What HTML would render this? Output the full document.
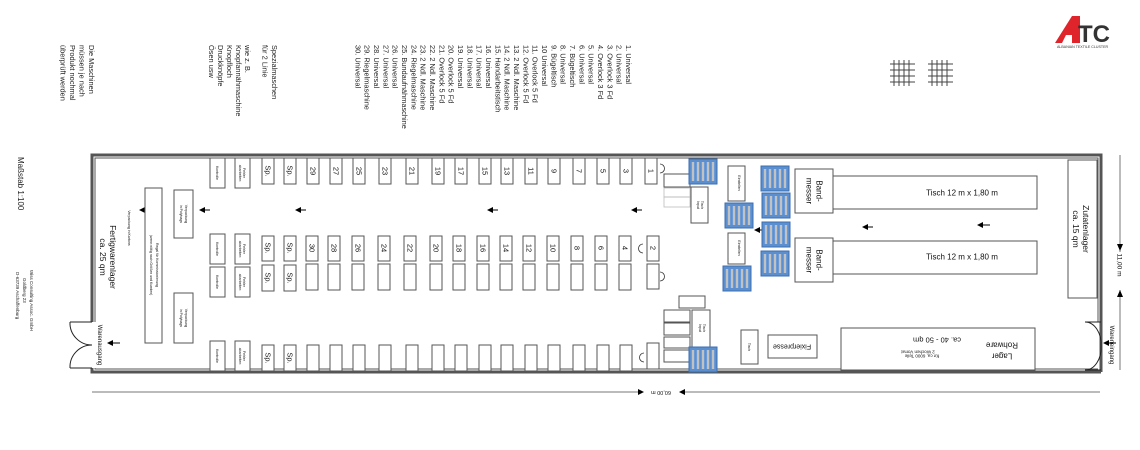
<!DOCTYPE html>
<html><head><meta charset="utf-8"><style>
html,body{margin:0;padding:0;background:#fff;}
svg{display:block;font-family:"Liberation Sans",sans-serif;}
</style></head><body>
<svg width="1140" height="450" viewBox="0 0 1140 450" xmlns="http://www.w3.org/2000/svg">
<defs>
<g id="rack">
<rect x="0" y="0" width="28" height="25" fill="#5b8fd0" stroke="#3e6fb0"/>
<path d="M4 3v19M9 3v19M14 3v19M19 3v19M24 3v19" stroke="#fff" stroke-width="2.2"/>
<path d="M4 3v19M9 3v19M14 3v19M19 3v19M24 3v19" stroke="#333" stroke-width="0.6"/>
</g>
<marker id="ah" markerWidth="6" markerHeight="6" refX="5" refY="3" orient="auto"><path d="M0,0 L6,3 L0,6z" fill="#000"/></marker>
</defs>
<g fill="#222" font-size="7.4">
<g transform="translate(626,45) rotate(90)"><text>1. Universal</text></g>
<g transform="translate(616.6,45) rotate(90)"><text>2. Universal</text></g>
<g transform="translate(607.3,45) rotate(90)"><text>3. Overlock 3 Fd</text></g>
<g transform="translate(598,45) rotate(90)"><text>4. Overlock 3 Fd</text></g>
<g transform="translate(588.6,45) rotate(90)"><text>5. Universal</text></g>
<g transform="translate(579.3,45) rotate(90)"><text>6. Universal</text></g>
<g transform="translate(570,45) rotate(90)"><text>7. Bügeltisch</text></g>
<g transform="translate(560.6,45) rotate(90)"><text>8. Universal</text></g>
<g transform="translate(551.3,45) rotate(90)"><text>9. Bügeltisch</text></g>
<g transform="translate(542,45) rotate(90)"><text>10 Universal</text></g>
<g transform="translate(532.6,45) rotate(90)"><text>11. Overlock 5 Fd</text></g>
<g transform="translate(523.3,45) rotate(90)"><text>12. Overlock 5 Fd</text></g>
<g transform="translate(514,45) rotate(90)"><text>13. 2 Ndl. Maschine</text></g>
<g transform="translate(504.6,45) rotate(90)"><text>14. 2 Ndl. Maschine</text></g>
<g transform="translate(495.3,45) rotate(90)"><text>15. Handarbeitstisch</text></g>
<g transform="translate(486,45) rotate(90)"><text>16. Universal</text></g>
<g transform="translate(476.6,45) rotate(90)"><text>17. Universal</text></g>
<g transform="translate(467.3,45) rotate(90)"><text>18. Universal</text></g>
<g transform="translate(458,45) rotate(90)"><text>19. Universal</text></g>
<g transform="translate(448.6,45) rotate(90)"><text>20. Overlock 5 Fd</text></g>
<g transform="translate(439.3,45) rotate(90)"><text>21. Overlock 5 Fd</text></g>
<g transform="translate(430,45) rotate(90)"><text>22. 2 Ndl. Maschine</text></g>
<g transform="translate(420.6,45) rotate(90)"><text>23. 2 Ndl. Maschine</text></g>
<g transform="translate(411.3,45) rotate(90)"><text>24. Riegelmaschine</text></g>
<g transform="translate(402,45) rotate(90)"><text>25. Bundaufnähmaschine</text></g>
<g transform="translate(392.6,45) rotate(90)"><text>26. Universal</text></g>
<g transform="translate(383.3,45) rotate(90)"><text>27. Universal</text></g>
<g transform="translate(374,45) rotate(90)"><text>28. Universal</text></g>
<g transform="translate(364.6,45) rotate(90)"><text>29. Riegelmaschine</text></g>
<g transform="translate(355.3,45) rotate(90)"><text>30. Universal</text></g>

<g transform="translate(272,45) rotate(90)"><text>Spezialmaschen</text></g>
<g transform="translate(262.5,45) rotate(90)"><text>für 2 Linie</text></g>
<g transform="translate(245,45) rotate(90)"><text>wie z. B.</text></g>
<g transform="translate(236,45) rotate(90)"><text>Knopfannähmaschine</text></g>
<g transform="translate(227,45) rotate(90)"><text>Knopfloch</text></g>
<g transform="translate(218,45) rotate(90)"><text>Druckknöpfe</text></g>
<g transform="translate(209,45) rotate(90)"><text>Ösen usw</text></g>
<g transform="translate(89,45) rotate(90)"><text>Die Maschinen</text></g>
<g transform="translate(79.5,45) rotate(90)"><text>müssen je nach</text></g>
<g transform="translate(70,45) rotate(90)"><text>Produkt nochmal</text></g>
<g transform="translate(60.5,45) rotate(90)"><text>überprüft werden</text></g>
<g transform="translate(18,157) rotate(90)"><text font-size="8">Maßstab 1:100</text></g>
<g font-size="4.5"><g transform="translate(30,270) rotate(90)"><text>Wiss Consulting Assoc. GmbH</text></g>
<g transform="translate(23,278) rotate(90)"><text>Goldberg 23</text></g>
<g transform="translate(16,272) rotate(90)"><text>D-63739 Aschaffenburg</text></g></g>
</g>

<!-- building walls -->
<g fill="none" stroke="#555">
<path d="M92,322 V155 H1101 V322" stroke-width="3"/>
<path d="M95,322 V158 H1098 V322" stroke-width="1"/>
<path d="M92,368 V372 H1101 V372" stroke-width="3"/>
<path d="M95,368 V369 H1098" stroke-width="1"/>
<path d="M1101,322 V372" stroke-width="3"/>
</g>
<!-- doors -->
<g fill="none" stroke="#222" stroke-width="1">
<path d="M70,322 H92 M70,368 H92 M70,322 A22,22 0 0 0 92,345 M70,368 A22,22 0 0 1 92,345"/>
<path d="M1101,322 H1085 M1101,370 H1085 M1085,322 A16,22 0 0 1 1101,346 M1085,370 A16,22 0 0 0 1101,346" />
</g>
<g stroke="#000" stroke-width="1" marker-end="url(#ah)">
<line x1="120" y1="343" x2="108" y2="343"/>
<line x1="1116" y1="343" x2="1104" y2="343"/>
<line x1="306" y1="210" x2="296" y2="210"/>
<line x1="498" y1="210" x2="488" y2="210"/>
<line x1="642" y1="210" x2="632" y2="210"/>
<line x1="210" y1="210" x2="200" y2="210"/>
<line x1="152" y1="210" x2="140" y2="210"/>
<line x1="873" y1="227" x2="863" y2="227"/>
<line x1="990" y1="225" x2="978" y2="225"/>
<line x1="766" y1="230" x2="755" y2="230"/>
</g>

<g fill="#fff" stroke="#555" stroke-width="1">
<!-- top row -->
<rect x="307" y="158" width="12" height="26"/><rect x="330" y="158" width="12" height="26"/><rect x="353" y="158" width="12" height="26"/><rect x="379" y="158" width="12" height="26"/><rect x="406" y="158" width="12" height="26"/><rect x="432" y="158" width="12" height="26"/><rect x="455" y="158" width="12" height="26"/><rect x="479" y="158" width="12" height="26"/><rect x="501" y="158" width="12" height="26"/><rect x="525" y="158" width="12" height="26"/><rect x="548" y="158" width="12" height="26"/><rect x="573" y="158" width="12" height="26"/><rect x="597" y="158" width="12" height="26"/><rect x="620" y="158" width="12" height="26"/><rect x="645" y="158" width="12" height="26"/>
<!-- middle numbered -->
<rect x="306" y="236" width="12" height="25"/><rect x="328" y="236" width="12" height="25"/><rect x="352" y="236" width="12" height="25"/><rect x="378" y="236" width="12" height="25"/><rect x="404" y="236" width="12" height="25"/><rect x="430" y="236" width="12" height="25"/><rect x="453" y="236" width="12" height="25"/><rect x="477" y="236" width="12" height="25"/><rect x="500" y="236" width="12" height="25"/><rect x="523" y="236" width="12" height="25"/><rect x="547" y="236" width="12" height="25"/><rect x="571" y="236" width="12" height="25"/><rect x="595" y="236" width="12" height="25"/><rect x="619" y="236" width="12" height="25"/><rect x="647" y="236" width="12" height="25"/>
<!-- lower row -->
<rect x="306" y="264" width="12" height="26"/><rect x="328" y="264" width="12" height="26"/><rect x="352" y="264" width="12" height="26"/><rect x="378" y="264" width="12" height="26"/><rect x="404" y="264" width="12" height="26"/><rect x="430" y="264" width="12" height="26"/><rect x="453" y="264" width="12" height="26"/><rect x="477" y="264" width="12" height="26"/><rect x="500" y="264" width="12" height="26"/><rect x="523" y="264" width="12" height="26"/><rect x="547" y="264" width="12" height="26"/><rect x="571" y="264" width="12" height="26"/><rect x="595" y="264" width="12" height="26"/><rect x="619" y="264" width="12" height="26"/><rect x="647" y="264" width="12" height="25"/>
<!-- bottom row -->
<rect x="307" y="345" width="12" height="26"/><rect x="330" y="345" width="12" height="26"/><rect x="353" y="345" width="12" height="26"/><rect x="379" y="345" width="12" height="26"/><rect x="406" y="345" width="12" height="26"/><rect x="432" y="345" width="12" height="26"/><rect x="455" y="345" width="12" height="26"/><rect x="479" y="345" width="12" height="26"/><rect x="501" y="345" width="12" height="26"/><rect x="525" y="345" width="12" height="26"/><rect x="548" y="345" width="12" height="26"/><rect x="573" y="345" width="12" height="26"/><rect x="597" y="345" width="12" height="26"/><rect x="620" y="345" width="12" height="26"/><rect x="647" y="343" width="12" height="26"/>
<!-- Sp. -->
<rect x="262" y="158" width="12" height="26"/><rect x="284" y="158" width="12" height="26"/>
<rect x="262" y="236" width="12" height="25"/><rect x="284" y="236" width="12" height="25"/>
<rect x="262" y="265" width="12" height="26"/><rect x="284" y="265" width="12" height="26"/>
<rect x="262" y="345" width="12" height="26"/><rect x="284" y="345" width="12" height="26"/>
<!-- Fehler / Kontrolle -->
<rect x="235" y="158" width="15" height="30"/><rect x="210" y="158" width="15" height="30"/>
<rect x="235" y="234" width="15" height="30"/><rect x="210" y="234" width="15" height="30"/>
<rect x="235" y="267" width="15" height="30"/><rect x="210" y="267" width="15" height="30"/>
<rect x="235" y="341" width="15" height="30"/><rect x="210" y="341" width="15" height="30"/>
<!-- left area -->
<rect x="145" y="188" width="17" height="155"/>
<rect x="174" y="190" width="19" height="48"/>
<rect x="174" y="293" width="19" height="50"/>
<!-- right area -->
<rect x="1068" y="160" width="29" height="138"/>
<rect x="833" y="176" width="204" height="33"/>
<rect x="833" y="241" width="204" height="33"/>
<rect x="795" y="169" width="38" height="44"/>
<rect x="795" y="238" width="38" height="44"/>
<rect x="841" y="328" width="194" height="42"/>
<rect x="768" y="335" width="49" height="23"/>
<rect x="741" y="330" width="17" height="34"/>
<rect x="728" y="166" width="17" height="35"/>
<rect x="728" y="233" width="17" height="31"/>
<rect x="691" y="187" width="17" height="36"/>
<rect x="692" y="310" width="18" height="37"/>
<rect x="664" y="174" width="26" height="13"/>
<rect x="679" y="296" width="26" height="12"/>
<rect x="664" y="310" width="26" height="12"/><rect x="664" y="323" width="26" height="12"/><rect x="664" y="337" width="26" height="11"/><rect x="664" y="350" width="26" height="12"/>
</g>
<g fill="none" stroke="#bbb" stroke-width="0.8"><rect x="664" y="188" width="26" height="9"/><rect x="664" y="197" width="26" height="10"/></g>
<!-- chairs -->
<g fill="none" stroke="#333" stroke-width="0.8">
<path d="M660,164 a4,4 0 0 1 0,9"/><path d="M643,244 a4,4 0 0 0 0,9"/><path d="M660,272 a4,4 0 0 1 0,9"/><path d="M644,353 a4,4 0 0 0 0,9"/>
</g>
<use href="#rack" x="689" y="159"/>
<use href="#rack" x="689" y="347"/>
<use href="#rack" x="725" y="203"/>
<use href="#rack" x="723" y="266"/>
<use href="#rack" x="761" y="166"/>
<use href="#rack" x="762" y="193"/>
<use href="#rack" x="762" y="222"/>
<use href="#rack" x="761" y="251"/>

<g fill="#111" font-size="8" text-anchor="middle" dominant-baseline="central">
<g font-size="7.5">
<text transform="translate(313,171) rotate(90)">29</text><text transform="translate(336,171) rotate(90)">27</text><text transform="translate(359,171) rotate(90)">25</text><text transform="translate(385,171) rotate(90)">23</text><text transform="translate(412,171) rotate(90)">21</text><text transform="translate(438,171) rotate(90)">19</text><text transform="translate(461,171) rotate(90)">17</text><text transform="translate(485,171) rotate(90)">15</text><text transform="translate(507,171) rotate(90)">13</text><text transform="translate(531,171) rotate(90)">11</text><text transform="translate(554,171) rotate(90)">9</text><text transform="translate(579,171) rotate(90)">7</text><text transform="translate(603,171) rotate(90)">5</text><text transform="translate(626,171) rotate(90)">3</text><text transform="translate(651,171) rotate(90)">1</text>
<text transform="translate(312,248) rotate(90)">30</text><text transform="translate(334,248) rotate(90)">28</text><text transform="translate(358,248) rotate(90)">26</text><text transform="translate(384,248) rotate(90)">24</text><text transform="translate(410,248) rotate(90)">22</text><text transform="translate(436,248) rotate(90)">20</text><text transform="translate(459,248) rotate(90)">18</text><text transform="translate(483,248) rotate(90)">16</text><text transform="translate(506,248) rotate(90)">14</text><text transform="translate(529,248) rotate(90)">12</text><text transform="translate(553,248) rotate(90)">10</text><text transform="translate(577,248) rotate(90)">8</text><text transform="translate(601,248) rotate(90)">6</text><text transform="translate(625,248) rotate(90)">4</text><text transform="translate(653,248) rotate(90)">2</text>
<text transform="translate(268,171) rotate(90)">Sp.</text><text transform="translate(290,171) rotate(90)">Sp.</text>
<text transform="translate(268,248) rotate(90)">Sp.</text><text transform="translate(290,248) rotate(90)">Sp.</text>
<text transform="translate(268,278) rotate(90)">Sp.</text><text transform="translate(290,278) rotate(90)">Sp.</text>
<text transform="translate(268,358) rotate(90)">Sp.</text><text transform="translate(290,358) rotate(90)">Sp.</text>
</g>
<g font-size="3.5">
<text transform="translate(217,173) rotate(90)">Kontrolle</text><text transform="translate(217,249) rotate(90)">Kontrolle</text><text transform="translate(217,282) rotate(90)">Kontrolle</text><text transform="translate(217,356) rotate(90)">Kontrolle</text>
<text transform="translate(244,173) rotate(90)">Fehler</text><text transform="translate(240,173) rotate(90)">abarbeiten</text>
<text transform="translate(244,249) rotate(90)">Fehler</text><text transform="translate(240,249) rotate(90)">abarbeiten</text>
<text transform="translate(244,282) rotate(90)">Fehler</text><text transform="translate(240,282) rotate(90)">abarbeiten</text>
<text transform="translate(244,356) rotate(90)">Fehler</text><text transform="translate(240,356) rotate(90)">abarbeiten</text>
<text transform="translate(186,214) rotate(90)">Verpackung</text><text transform="translate(181,214) rotate(90)">in Polybags</text>
<text transform="translate(186,318) rotate(90)">Verpackung</text><text transform="translate(181,318) rotate(90)">in Polybags</text>
<text transform="translate(157,265) rotate(90)">Regal für Kommissionierung</text><text transform="translate(151,265) rotate(90)">(wenn nötig nach Größen und Kunden)</text>
<text transform="translate(129,228) rotate(90)">Verpackung in Kartons</text>
<text transform="translate(739,183) rotate(90)">Einstellen</text><text transform="translate(739,248) rotate(90)">Einstellen</text>
<text transform="translate(702,205) rotate(90)">Tisch</text><text transform="translate(698,205) rotate(90)">Input</text>
<text transform="translate(704,328) rotate(90)">Tisch</text><text transform="translate(700,328) rotate(90)">Input</text>
<text transform="translate(749,347) rotate(90)">Tisch</text>
</g>
<text transform="translate(113,257) rotate(90)" font-size="8.5">Fertigwarenlager</text>
<text transform="translate(103,257) rotate(90)" font-size="8.5">ca. 25 qm</text>
<text transform="translate(99,345) rotate(90)" font-size="6">Warenausgang</text>
<text transform="translate(1086,229) rotate(90)" font-size="8.5">Zutatenlager</text>
<text transform="translate(1076,229) rotate(90)" font-size="8.5">ca. 15 qm</text>
<text transform="translate(1111,345) rotate(90)" font-size="6">Wareneingang</text>
<text transform="translate(1119,265) rotate(90)" font-size="6.5">11,00 m</text>
<text transform="translate(819,191) rotate(90)" font-size="8">Band-</text><text transform="translate(809,191) rotate(90)" font-size="8">messer</text>
<text transform="translate(819,260) rotate(90)" font-size="8">Band-</text><text transform="translate(809,260) rotate(90)" font-size="8">messer</text>
<text x="962" y="193" font-size="8">Tisch 12 m x 1,80 m</text>
<text x="962" y="257" font-size="8">Tisch 12 m x 1,80 m</text>
<text transform="translate(792,346) rotate(180)" font-size="7">Fixierpresse</text>
<text transform="translate(1002,356) rotate(180)" font-size="8">Lager</text>
<text transform="translate(1002,345) rotate(180)" font-size="8">Rohware</text>
<text transform="translate(937,340) rotate(180)" font-size="7.5">ca. 40 - 50 qm</text>
<text transform="translate(922,356) rotate(180)" font-size="4.5">für ca. 6000 Teile</text>
<text transform="translate(918,352) rotate(180)" font-size="4.5">2 Wochen Vorrat</text>
<text transform="translate(661,392) rotate(180)" font-size="5.5">60,00 m</text>
</g>
<!-- dimension lines -->
<g stroke="#777" stroke-width="1">
<line x1="92" y1="392" x2="638" y2="392"/><line x1="684" y1="392" x2="1100" y2="392"/>
<line x1="1120" y1="155" x2="1120" y2="252"/><line x1="1120" y1="290" x2="1120" y2="370"/>
</g>
<path d="M638,389 L644,392 L638,395z M685,389 L679,392 L685,395z M1117,244 L1120,251 L1123,244z M1117,297 L1120,290 L1123,297z" fill="#000"/>
<!-- grille icons -->
<g stroke="#444" stroke-width="1" fill="none">
<path d="M890,64h25M890,70h25M890,76h25M890,82h25M894,60v26M899,60v26M904,60v26M909,60v26"/>
<path d="M928,64h25M928,70h25M928,76h25M928,82h25M932,60v26M937,60v26M942,60v26M947,60v26"/>
</g>
<!-- logo -->
<path d="M1055,43 L1072,16 L1080,16 L1080,43 L1072,43 L1072,35 L1066,35 L1062,43z" fill="#e0242c"/>
<text x="1078" y="42" font-size="24" font-weight="bold" fill="#333" font-family="Liberation Sans,sans-serif">TC</text>
<text x="1057" y="48" font-size="3.6" fill="#333">ALBANIAN TEXTILE CLUSTER</text>
</svg>
</body></html>
